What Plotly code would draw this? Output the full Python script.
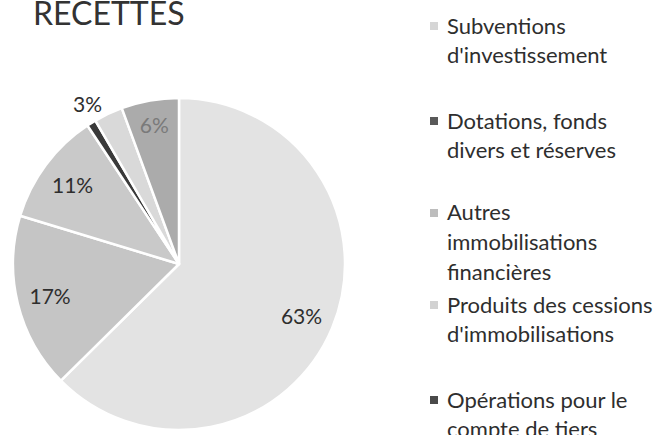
import plotly.graph_objects as go

# slices, clockwise from 12 o'clock
labels = [
    "Subventions<br>d'investissement",
    "Dotations, fonds<br>divers et réserves",
    "Autres<br>immobilisations<br>financières",
    "Produits des cessions<br>d'immobilisations",
    "Opérations pour le<br>compte de tiers",
    "Emprunts et dettes<br>assimilées",
]
values = [62.6, 17.1, 11.0, 0.9, 2.8, 5.6]
slice_colors = ["#e3e3e3", "#c5c5c5", "#c9c9c9", "#3a3a3a", "#d9d9d9", "#ababab"]
marker_colors = ["#d6d6d6", "#595959", "#bdbdbd", "#d2d2d2", "#4a4a4a", "#9a9a9a"]

W, H = 656, 435
TXT = "#2e2e2e"
FONT = "Lato"


def py(p):
    # pixel from top -> paper y
    return 1 - p / H


def px(p):
    return p / W


dom = dict(x=[px(13), px(345)], y=[py(430), py(98)])

fig = go.Figure()
# the slices
fig.add_trace(go.Pie(
    labels=labels, values=values, sort=False, direction="clockwise", rotation=0,
    marker=dict(colors=slice_colors, line=dict(color="white", width=2.5)),
    textinfo="none", domain=dom, showlegend=False,
    hoverinfo="label+percent",
))
# same pie with a hole, transparent, only to push the % labels outward
fig.add_trace(go.Pie(
    labels=labels, values=values, sort=False, direction="clockwise", rotation=0,
    hole=0.6,
    marker=dict(colors=["rgba(0,0,0,0)"] * len(values), line=dict(width=0)),
    texttemplate="%{percent:.0%}",
    textposition=["inside", "inside", "inside", "none", "outside", "inside"],
    insidetextorientation="horizontal",
    insidetextfont=dict(family=FONT, size=21,
                        color=[TXT, TXT, TXT, TXT, TXT, "#7a7a7a"]),
    outsidetextfont=dict(family=FONT, size=21, color=TXT),
    domain=dom, showlegend=False, hoverinfo="skip",
))

annotations = [dict(text="RECETTES", x=px(31), y=py(13), xref="paper", yref="paper",
                    xanchor="left", yanchor="middle", showarrow=False,
                    font=dict(family=FONT, size=32, color="#333333"))]
shapes = []

# hand-built legend (baseline of first line of each entry)
entry_base = [33, 128, 220, 312, 407, 500]
pitch = 29.5
for lab, col, b in zip(labels, marker_colors, entry_base):
    shapes.append(dict(type="rect", xref="paper", yref="paper",
                       x0=px(430), x1=px(438), y0=py(b - 3), y1=py(b - 11),
                       fillcolor=col, line=dict(width=0)))
    for i, line in enumerate(lab.split("<br>")):
        annotations.append(dict(text=line, x=px(445), y=py(b + i * pitch - 8),
                                xref="paper", yref="paper", xanchor="left",
                                yanchor="middle", showarrow=False,
                                font=dict(family=FONT, size=22, color=TXT)))

fig.update_layout(
    width=W, height=H,
    margin=dict(l=0, r=0, t=0, b=0),
    paper_bgcolor="white",
    plot_bgcolor="white",
    annotations=annotations,
    shapes=shapes,
)

fig.write_html("out.html", config={"displayModeBar": False},
               post_script="document.body.style.margin='0';")
